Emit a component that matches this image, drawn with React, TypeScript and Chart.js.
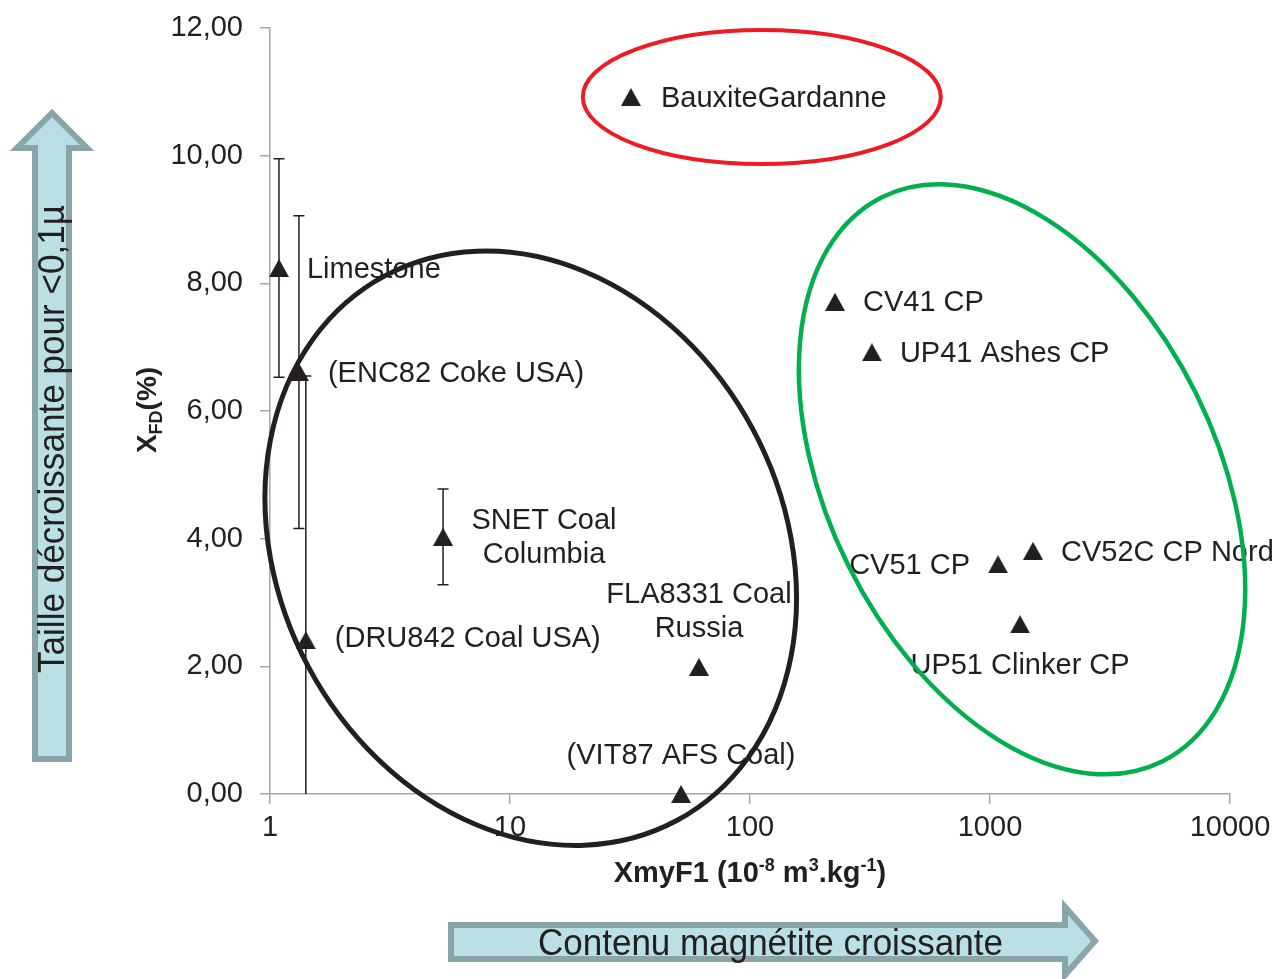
import React, { useEffect, useRef } from "react";
import { Chart, registerables } from "chart.js";

Chart.register(...registerables);

const FONT = "'Liberation Sans', Arial, Helvetica, sans-serif";
const TEXT = "#231f20";
const AXIS = "#a6a6a6";

// ---- data ----
const sampleLabels = [
  "BauxiteGardanne",
  "Limestone",
  "(ENC82 Coke USA)",
  "(DRU842 Coal USA)",
  "SNET Coal\nColumbia",
  "FLA8331 Coal\nRussia",
  "(VIT87 AFS Coal)",
  "CV41 CP",
  "UP41 Ashes CP",
  "CV51 CP",
  "CV52C CP Nord",
  "UP51 Clinker CP",
];
const xmyF1Values = [31.9, 1.09, 1.32, 1.41, 5.26, 61.3, 51.6, 226, 322, 1080, 1511, 1334];
const xfdValues = [10.92, 8.24, 6.61, 2.41, 4.03, 1.99, 0.0, 7.71, 6.92, 3.6, 3.81, 2.66];
const xfdErrors = [0, 1.71, 2.45, 4.14, 0.75, 0, 0, 0, 0, 0, 0, 0];
const xTickValues = [1, 10, 100, 1000, 10000];
const yTickValues = [0, 2, 4, 6, 8, 10, 12];

// ---- label placement relative to the marker (px) ----
const labelPlacement: { dx: number; dy: number; align: CanvasTextAlign }[] = [
  { dx: 30, dy: 2, align: "left" },
  { dx: 28, dy: 2, align: "left" },
  { dx: 29, dy: 2, align: "left" },
  { dx: 29, dy: -1, align: "left" },
  { dx: 101, dy: 1, align: "center" },
  { dx: 0, dy: -55, align: "center" },
  { dx: 0, dy: -38, align: "center" },
  { dx: 28, dy: 1, align: "left" },
  { dx: 28, dy: 2, align: "left" },
  { dx: -28, dy: 2, align: "right" },
  { dx: 28, dy: 2, align: "left" },
  { dx: 0, dy: 42, align: "center" },
];

// ---- group ellipses (centre in data units, semi-axes in px, angle in degrees) ----
const groupEllipses = [
  { x: 112, y: 10.92, rx: 179, ry: 67, angle: 0, color: "#ed1c24", width: 4 },
  { x: 12.2, y: 3.85, rx: 309, ry: 252, angle: 61.8, color: "#231f20", width: 5 },
  { x: 1360, y: 4.93, rx: 315, ry: 194, angle: 63.6, color: "#00b04f", width: 4.5 },
];

const errorBarPlugin = {
  id: "errorBars",
  beforeDatasetsDraw(chart: any) {
    const { ctx, chartArea, scales } = chart;
    ctx.save();
    ctx.beginPath();
    ctx.rect(chartArea.left, chartArea.top, chartArea.right - chartArea.left, chartArea.bottom - chartArea.top);
    ctx.clip();
    ctx.strokeStyle = TEXT;
    ctx.lineWidth = 1.5;
    xfdErrors.forEach((e, i) => {
      if (!e) return;
      const x = scales.x.getPixelForValue(xmyF1Values[i]);
      const yHi = scales.y.getPixelForValue(xfdValues[i] + e);
      const yLo = scales.y.getPixelForValue(xfdValues[i] - e);
      ctx.beginPath();
      ctx.moveTo(x, yHi);
      ctx.lineTo(x, yLo);
      ctx.moveTo(x - 5.5, yHi);
      ctx.lineTo(x + 5.5, yHi);
      ctx.moveTo(x - 5.5, yLo);
      ctx.lineTo(x + 5.5, yLo);
      ctx.stroke();
    });
    ctx.restore();
  },
};

const labelPlugin = {
  id: "pointLabels",
  afterDatasetsDraw(chart: any) {
    const { ctx, scales } = chart;
    ctx.save();
    ctx.font = `29px ${FONT}`;
    ctx.fillStyle = TEXT;
    ctx.textBaseline = "middle";
    sampleLabels.forEach((label, i) => {
      const p = labelPlacement[i];
      const x = scales.x.getPixelForValue(xmyF1Values[i]) + p.dx;
      const y = scales.y.getPixelForValue(xfdValues[i]) + p.dy;
      ctx.textAlign = p.align;
      const lines = label.split("\n");
      const lh = 34;
      lines.forEach((ln, k) => ctx.fillText(ln, x, y + (k - (lines.length - 1) / 2) * lh));
    });
    ctx.restore();
  },
};

const ellipsePlugin = {
  id: "groupEllipses",
  afterDraw(chart: any) {
    const { ctx, scales } = chart;
    ctx.save();
    groupEllipses.forEach((e) => {
      const cx = scales.x.getPixelForValue(e.x);
      const cy = scales.y.getPixelForValue(e.y);
      ctx.beginPath();
      ctx.ellipse(cx, cy, e.rx, e.ry, (e.angle * Math.PI) / 180, 0, 2 * Math.PI);
      ctx.strokeStyle = e.color;
      ctx.lineWidth = e.width;
      ctx.stroke();
    });
    ctx.restore();
  },
};

export default function App() {
  const canvasRef = useRef<HTMLCanvasElement | null>(null);

  useEffect(() => {
    const canvas = canvasRef.current;
    if (!canvas) return;
    const marker = document.createElement("canvas");
    marker.width = 20;
    marker.height = 18;
    const mctx = marker.getContext("2d")!;
    mctx.fillStyle = TEXT;
    mctx.beginPath();
    mctx.moveTo(10, 0);
    mctx.lineTo(20, 18);
    mctx.lineTo(0, 18);
    mctx.closePath();
    mctx.fill();

    const chart = new Chart(canvas, {
      type: "scatter",
      data: {
        datasets: [
          {
            data: xmyF1Values.map((x, i) => ({ x, y: xfdValues[i] })),
            pointStyle: marker as any,
            pointRadius: 10,
            pointHoverRadius: 10,
            clip: false as any,
            showLine: false,
          },
        ],
      },
      options: {
        responsive: false,
        animation: false,
        events: [],
        layout: { padding: { top: 28, right: 49, left: 0, bottom: 0 } },
        plugins: { legend: { display: false }, tooltip: { enabled: false } },
        scales: {
          x: {
            type: "logarithmic",
            min: 1,
            max: 10000,
            position: "bottom",
            afterBuildTicks: (s: any) => {
              s.ticks = xTickValues.map((v) => ({ value: v }));
            },
            afterFit: (s: any) => {
              s.height = 185;
              s.paddingLeft = 0;
              s.paddingRight = 0;
            },
            ticks: {
              callback: (v: any) => String(v),
              font: { size: 29, family: FONT },
              color: TEXT,
              padding: 7,
              maxRotation: 0,
              autoSkip: false,
            },
            grid: { display: true, drawOnChartArea: false, drawTicks: true, tickLength: 10, color: AXIS, lineWidth: 1.5 },
            border: { display: true, color: AXIS, width: 1.5 },
          },
          y: {
            type: "linear",
            min: 0,
            max: 12,
            afterBuildTicks: (s: any) => {
              s.ticks = yTickValues.map((v) => ({ value: v }));
            },
            afterFit: (s: any) => {
              s.width = 270;
              s.paddingTop = 0;
              s.paddingBottom = 0;
            },
            ticks: {
              callback: (v: any) => Number(v).toFixed(2).replace(".", ","),
              font: { size: 29, family: FONT },
              color: TEXT,
              padding: 17,
            },
            grid: { display: true, drawOnChartArea: false, drawTicks: true, tickLength: 10, color: AXIS, lineWidth: 1.5 },
            border: { display: true, color: AXIS, width: 1.5 },
          },
        },
      } as any,
      plugins: [errorBarPlugin, labelPlugin, ellipsePlugin],
    });
    return () => chart.destroy();
  }, []);

  const arrowFill = "#badfe4";
  const arrowStroke = "#8aa5aa";

  return (
    <div style={{ position: "fixed", left: 0, top: 0, width: 1279, height: 979, background: "#fff", overflow: "hidden" }}>
      <canvas ref={canvasRef} width={1279} height={979} style={{ position: "absolute", left: 0, top: 0, width: 1279, height: 979 }} />
      <svg
        width={1279}
        height={979}
        style={{ position: "absolute", left: 0, top: 0, pointerEvents: "none" }}
        fontFamily={FONT}
      >
        {/* vertical arrow */}
        <polygon
          points="52,113 87,148 69,148 69,759 35,759 35,148 17,148"
          fill={arrowFill}
          stroke={arrowStroke}
          strokeWidth={6}
          strokeLinejoin="miter"
        />
        <text
          transform="translate(64,673) rotate(-90)"
          fontSize={36}
          fill={TEXT}
          textLength={468}
          lengthAdjust="spacingAndGlyphs"
        >
          Taille décroissante pour &lt;0,1µ
        </text>
        {/* horizontal arrow */}
        <polygon
          points="451,925 1065,925 1065,907 1095,941 1065,975 1065,959 451,959"
          fill={arrowFill}
          stroke={arrowStroke}
          strokeWidth={6}
          strokeLinejoin="miter"
        />
        <text x={538} y={955} fontSize={36} fill={TEXT} textLength={465} lengthAdjust="spacingAndGlyphs">
          Contenu magnétite croissante
        </text>
        {/* axis titles */}
        <text transform="translate(156,410) rotate(-90)" textAnchor="middle" fontWeight="bold" fontSize={28} fill={TEXT}>
          X<tspan fontSize={18} dy={6}>FD</tspan>
          <tspan dy={-6}>(%)</tspan>
        </text>
        <text x={750} y={882} textAnchor="middle" fontWeight="bold" fontSize={29} fill={TEXT}>
          XmyF1 (10<tspan fontSize={18} dy={-11}>-8</tspan>
          <tspan dy={11}>{" m"}</tspan>
          <tspan fontSize={18} dy={-11}>3</tspan>
          <tspan dy={11}>.kg</tspan>
          <tspan fontSize={18} dy={-11}>-1</tspan>
          <tspan dy={11}>)</tspan>
        </text>
      </svg>
    </div>
  );
}
